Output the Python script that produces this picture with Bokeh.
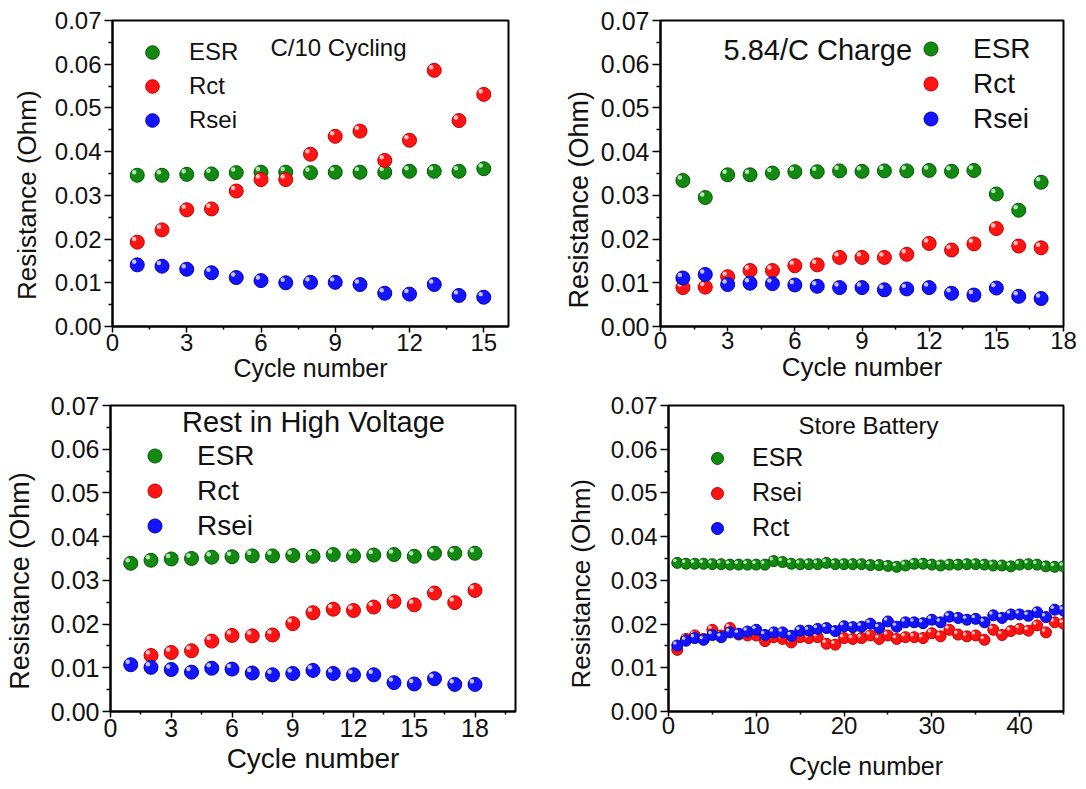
from bokeh.plotting import figure
from bokeh.layouts import column, row
from bokeh.models import (Range1d, FixedTicker, NumeralTickFormatter, Legend,
                          LegendItem, Label, ColumnDataSource)
from bokeh.transform import dodge
from bokeh.embed import file_html
from bokeh.resources import INLINE

FONT = "Liberation Sans"
TXT = "#111111"
NBSP = "\u00a0"

# ---------------- data ----------------
y_ticks = [0.0, 0.01, 0.02, 0.03, 0.04, 0.05, 0.06, 0.07]
y_minor = [0.005, 0.015, 0.025, 0.035, 0.045, 0.055, 0.065]
y_title = "Resistance (Ohm)"
x_title = "Cycle number"

# Panel 1: C/10 Cycling
c10_cycle = [1, 2, 3, 4, 5, 6, 7, 8, 9, 10, 11, 12, 13, 14, 15]
c10_esr = [0.0346, 0.0346, 0.0348, 0.0349, 0.0352, 0.0353, 0.0353, 0.0352,
           0.0353, 0.0353, 0.0353, 0.0355, 0.0355, 0.0355, 0.0361]
c10_rct = [0.0193, 0.0221, 0.0267, 0.0269, 0.0310, 0.0336, 0.0336, 0.0394,
           0.0435, 0.0447, 0.0380, 0.0426, 0.0586, 0.0471, 0.0531]
c10_rsei = [0.0141, 0.0138, 0.0131, 0.0123, 0.0112, 0.0105, 0.0100, 0.0101,
            0.0101, 0.0096, 0.0076, 0.0074, 0.0096, 0.0071, 0.0067]
c10_xticks = [0, 3, 6, 9, 12, 15]
c10_xminor = [1.5, 4.5, 7.5, 10.5, 13.5]

# Panel 2: 5.84/C Charge
chg_cycle = [1, 2, 3, 4, 5, 6, 7, 8, 9, 10, 11, 12, 13, 14, 15, 16, 17]
chg_esr = [0.0334, 0.0295, 0.0347, 0.0347, 0.0351, 0.0354, 0.0354, 0.0356, 0.0355,
           0.0356, 0.0356, 0.0357, 0.0355, 0.0357, 0.0303, 0.0266, 0.0330]
chg_rct = [0.0089, 0.0090, 0.0114, 0.0128, 0.0128, 0.0139, 0.0141, 0.0158, 0.0158,
           0.0158, 0.0165, 0.0190, 0.0175, 0.0189, 0.0224, 0.0184, 0.0180]
chg_rsei = [0.0111, 0.0119, 0.0096, 0.0099, 0.0098, 0.0095, 0.0092, 0.0089, 0.0089,
            0.0084, 0.0086, 0.0089, 0.0076, 0.0072, 0.0088, 0.0069, 0.0064]
chg_xticks = [0, 3, 6, 9, 12, 15, 18]
chg_xminor = [1.5, 4.5, 7.5, 10.5, 13.5, 16.5]

# Panel 3: Rest in High Voltage
rest_cycle = [1, 2, 3, 4, 5, 6, 7, 8, 9, 10, 11, 12, 13, 14, 15, 16, 17, 18]
rest_esr = [0.0339, 0.0346, 0.0349, 0.0350, 0.0353, 0.0354, 0.0356, 0.0356, 0.0357,
            0.0355, 0.0359, 0.0356, 0.0358, 0.0359, 0.0355, 0.0362, 0.0362, 0.0362]
rest_rct_cycle = [2, 3, 4, 5, 6, 7, 8, 9, 10, 11, 12, 13, 14, 15, 16, 17, 18]
rest_rct = [0.0128, 0.0135, 0.0139, 0.0161, 0.0174, 0.0173, 0.0175, 0.0201, 0.0226,
            0.0234, 0.0231, 0.0239, 0.0252, 0.0244, 0.0271, 0.0249, 0.0277]
rest_rsei = [0.0107, 0.0101, 0.0096, 0.0090, 0.0099, 0.0097, 0.0088, 0.0084, 0.0087,
             0.0094, 0.0087, 0.0084, 0.0084, 0.0066, 0.0063, 0.0075, 0.0062, 0.0062]
rest_xticks = [0, 3, 6, 9, 12, 15, 18]
rest_xminor = [1.5, 4.5, 7.5, 10.5, 13.5, 16.5, 19.5]

# Panel 4: Store Battery
store_cycle = list(range(1, 46))
store_esr = [0.0340, 0.0338, 0.0338, 0.0338, 0.0337, 0.0337, 0.0336, 0.0336, 0.0336,
             0.0336, 0.0336, 0.0344, 0.0342, 0.0338, 0.0337, 0.0337, 0.0337, 0.0340,
             0.0337, 0.0337, 0.0337, 0.0337, 0.0335, 0.0335, 0.0333, 0.0331, 0.0334,
             0.0338, 0.0338, 0.0336, 0.0334, 0.0336, 0.0336, 0.0337, 0.0337, 0.0336,
             0.0334, 0.0334, 0.0332, 0.0336, 0.0337, 0.0336, 0.0332, 0.0331, 0.0332]
store_rsei = [0.0141, 0.0166, 0.0174, 0.0166, 0.0187, 0.0174, 0.0191, 0.0176, 0.0174,
              0.0174, 0.0161, 0.0170, 0.0166, 0.0158, 0.0170, 0.0168, 0.0170, 0.0155,
              0.0153, 0.0168, 0.0166, 0.0168, 0.0174, 0.0166, 0.0174, 0.0166, 0.0170,
              0.0170, 0.0168, 0.0179, 0.0172, 0.0187, 0.0176, 0.0172, 0.0174, 0.0164,
              0.0187, 0.0175, 0.0184, 0.0189, 0.0185, 0.0197, 0.0181, 0.0204, 0.0201]
store_rct = [0.0151, 0.0162, 0.0168, 0.0164, 0.0175, 0.0170, 0.0181, 0.0178, 0.0183,
             0.0187, 0.0175, 0.0181, 0.0181, 0.0173, 0.0185, 0.0185, 0.0189, 0.0191,
             0.0184, 0.0195, 0.0193, 0.0194, 0.0201, 0.0191, 0.0206, 0.0194, 0.0204,
             0.0204, 0.0202, 0.0210, 0.0204, 0.0217, 0.0214, 0.0210, 0.0212, 0.0204,
             0.0220, 0.0214, 0.0222, 0.0222, 0.0219, 0.0227, 0.0216, 0.0233, 0.0231]
store_xticks = [0, 10, 20, 30, 40]
store_xminor = [5, 15, 25, 35, 45]

GREEN = dict(fill="#128a12", line="#005a00", hl="#c8f0c8")
RED = dict(fill="#ff1414", line="#c00000", hl="#ffd6d6")
BLUE = dict(fill="#1414ff", line="#0000b0", hl="#d6d6ff")


def make_panel(cfg):
    w, h = cfg["w"], cfg["h"]
    L, R, T, B = cfg["borders"]
    fw, fh = w - L - R, h - T - B
    p = figure(width=w, height=h, x_range=Range1d(0, cfg["xmax"]),
               y_range=Range1d(0, 0.07), output_backend="svg",
               toolbar_location=None, min_border_left=L, min_border_right=R,
               min_border_top=T, min_border_bottom=B)
    p.grid.visible = False
    p.outline_line_color = "black"
    p.outline_line_width = 2
    p.background_fill_color = "white"
    p.border_fill_color = "white"

    xa = p.xaxis[0]
    xa.ticker = FixedTicker(ticks=cfg["xticks"], minor_ticks=cfg["xminor"])
    xa.axis_label = x_title
    xa.axis_label_text_font = FONT
    xa.axis_label_text_font_size = f'{cfg["xtitle_fs"]}px'
    xa.axis_label_text_font_style = "normal"
    xa.axis_label_text_color = TXT
    xa.axis_label_standoff = cfg["xtitle_so"]
    xa.major_label_text_font = FONT
    xa.major_label_text_font_size = f'{cfg["xlab_fs"]}px'
    xa.major_label_text_color = TXT
    xa.major_label_standoff = cfg["xlab_so"]
    xa.major_tick_out = cfg["xtick"]
    xa.major_tick_in = 0
    xa.minor_tick_out = 3
    xa.minor_tick_in = 0
    xa.axis_line_width = 2
    xa.major_tick_line_width = 1.5
    xa.minor_tick_line_width = 1.5

    ya = p.yaxis[0]
    ya.ticker = FixedTicker(ticks=y_ticks, minor_ticks=y_minor)
    ya.formatter = NumeralTickFormatter(format="0.00")
    ya.major_label_text_font = FONT
    ya.major_label_text_font_size = f'{cfg["ylab_fs"]}px'
    ya.major_label_text_color = TXT
    ya.major_label_standoff = 3
    ya.major_tick_out = 8
    ya.major_tick_in = 0
    ya.minor_tick_out = 4
    ya.minor_tick_in = 0
    ya.axis_line_width = 2
    ya.major_tick_line_width = 1.5
    ya.minor_tick_line_width = 1.5
    # trailing no-break spaces push the visible title a little below centre
    ya.axis_label = y_title + NBSP * cfg["ytitle_pad"]
    ya.axis_label_text_font = FONT
    ya.axis_label_text_font_size = f'{cfg["ytitle_fs"]}px'
    ya.axis_label_text_font_style = "normal"
    ya.axis_label_text_color = TXT
    ya.axis_label_standoff = cfg["ytitle_so"]

    ms = cfg["ms"]
    dx = -0.22 * ms * cfg["xmax"] / fw
    dy = 0.22 * ms * 0.07 / fh
    items = []
    for name, xs, ys, col in cfg["series"]:
        src = ColumnDataSource(dict(x=xs, y=ys))
        r1 = p.scatter("x", "y", source=src, size=ms, fill_color=col["fill"],
                       line_color=col["line"], line_width=1)
        p.scatter(dodge("x", dx), dodge("y", dy), source=src, size=ms * 0.32,
                  fill_color=col["hl"], line_color=None, fill_alpha=0.9)
        items.append(LegendItem(label=name, renderers=[r1]))
    leg = Legend(items=items, location=cfg["leg_loc"], orientation="vertical",
                 label_text_font=FONT, label_text_font_size=f'{cfg["leg_fs"]}px',
                 label_text_color=TXT, label_height=cfg["leg_h"],
                 glyph_height=cfg["leg_g"], glyph_width=cfg["leg_g"],
                 label_standoff=cfg["leg_so"], spacing=0, padding=0, margin=0,
                 border_line_alpha=0, background_fill_alpha=0)
    p.add_layout(leg)

    t = cfg["title"]
    p.add_layout(Label(x=t["x"], y=t["y"], x_units="screen", y_units="screen",
                       text=t["text"], text_font=FONT,
                       text_font_size=f'{t["fs"]}px', text_color=TXT,
                       text_align=t["align"], text_baseline="middle"))
    return p


p1 = make_panel(dict(
    w=560, h=388, borders=(112, 52, 20, 62), xmax=16,
    xticks=c10_xticks, xminor=c10_xminor,
    xtitle_fs=25, xtitle_so=0, xlab_fs=24, xlab_so=1, xtick=6,
    ylab_fs=24, ytitle_fs=26, ytitle_so=10, ytitle_pad=6, ms=14,
    series=[("ESR", c10_cycle, c10_esr, GREEN),
            ("Rct", c10_cycle, c10_rct, RED),
            ("Rsei", c10_cycle, c10_rsei, BLUE)],
    leg_loc=(23, 189), leg_fs=24, leg_h=34, leg_g=34, leg_so=20,
    title=dict(text="C/10 Cycling", x=158, y=279, fs=24, align="left")))

p2 = make_panel(dict(
    w=526, h=388, borders=(97, 23, 17, 61), xmax=18,
    xticks=chg_xticks, xminor=chg_xminor,
    xtitle_fs=26, xtitle_so=0, xlab_fs=24, xlab_so=0, xtick=5,
    ylab_fs=25, ytitle_fs=27, ytitle_so=4, ytitle_pad=7, ms=14,
    series=[("ESR", chg_cycle, chg_esr, GREEN),
            ("Rct", chg_cycle, chg_rct, RED),
            ("Rsei", chg_cycle, chg_rsei, BLUE)],
    leg_loc=(253, 190), leg_fs=28, leg_h=35, leg_g=35, leg_so=25,
    title=dict(text="5.84/C Charge", x=63, y=277, fs=29, align="left")))

p3 = make_panel(dict(
    w=560, h=400, borders=(110, 45, 15, 76), xmax=20,
    xticks=rest_xticks, xminor=rest_xminor,
    xtitle_fs=28, xtitle_so=3, xlab_fs=25, xlab_so=1, xtick=6,
    ylab_fs=25, ytitle_fs=27, ytitle_so=13, ytitle_pad=6, ms=14,
    series=[("ESR", rest_cycle, rest_esr, GREEN),
            ("Rct", rest_rct_cycle, rest_rct, RED),
            ("Rsei", rest_cycle, rest_rsei, BLUE)],
    leg_loc=(27, 168), leg_fs=28, leg_h=35, leg_g=35, leg_so=25,
    title=dict(text="Rest in High Voltage", x=203, y=290, fs=29, align="center")))

p4 = make_panel(dict(
    w=526, h=400, borders=(108, 23, 17, 77), xmax=45,
    xticks=store_xticks, xminor=store_xminor,
    xtitle_fs=25, xtitle_so=15, xlab_fs=24, xlab_so=0, xtick=5,
    ylab_fs=24, ytitle_fs=26, ytitle_so=12, ytitle_pad=7, ms=11,
    series=[("ESR", store_cycle, store_esr, GREEN),
            ("Rsei", store_cycle, store_rsei, RED),
            ("Rct", store_cycle, store_rct, BLUE)],
    leg_loc=(34, 166), leg_fs=25, leg_h=35, leg_g=30, leg_so=20,
    title=dict(text="Store Battery", x=200, y=286, fs=24, align="center")))

layout = column(row(p1, p2), row(p3, p4))
open("out.html", "w").write(file_html(layout, INLINE))
